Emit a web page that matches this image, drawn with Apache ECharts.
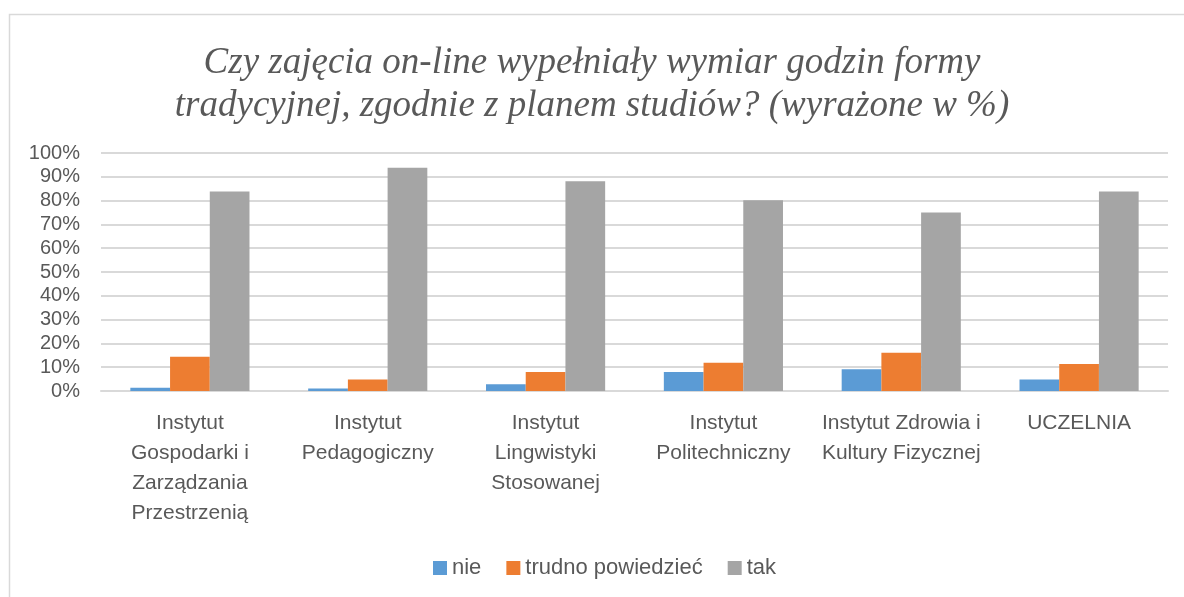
<!DOCTYPE html>
<html><head><meta charset="utf-8">
<script src="https://cdn.jsdelivr.net/npm/echarts@6/dist/echarts.min.js"></script>
<style>html,body{margin:0;padding:0;background:#fff}#c{width:1184px;height:597px}</style>
</head><body><div id="c"></div>
<script>
const titleText = 'Czy zajęcia on-line wypełniały wymiar godzin formy\ntradycyjnej, zgodnie z planem studiów? (wyrażone w %)';
const categories = ['Instytut\nGospodarki i\nZarządzania\nPrzestrzenią', 'Instytut\nPedagogiczny', 'Instytut\nLingwistyki\nStosowanej', 'Instytut\nPolitechniczny', 'Instytut Zdrowia i\nKultury Fizycznej', 'UCZELNIA'];
const seriesNames = ['nie', 'trudno powiedzieć', 'tak'];
const nie = [1.4, 1.0, 2.8, 8.0, 9.1, 4.8];
const trudno = [14.4, 4.8, 8.0, 11.9, 16.1, 11.3];
const tak = [83.8, 93.8, 88.1, 80.1, 75.0, 83.8];
const colors = ['#5b9bd5', '#ed7d31', '#a5a5a5'];

const chart = echarts.init(document.getElementById('c'));
const txt = '#595959';
chart.setOption({
  animation: false,
  color: colors,
  graphic: [{type:'rect', shape:{x:9.5,y:14.5,width:1300,height:700}, style:{fill:'none',stroke:'#d9d9d9',lineWidth:1.5}, z:-1}],
  title: {text: titleText, left: 'center', top: 37, padding:[5,5,5,25], textStyle:{fontFamily:'Liberation Serif', fontStyle:'italic', fontWeight:'normal', fontSize:37, color:txt, lineHeight:43}},
  legend: {top: 552, left: 428, itemWidth:14, itemHeight:14, itemGap:25, icon:'rect', textStyle:{fontFamily:'Liberation Sans', fontSize:22, color:txt}, data: seriesNames},
  grid: {left:101, right:16, top:153, bottom:206},
  xAxis: {type:'category', data: categories, axisTick:{show:false}, axisLine:{lineStyle:{color:'#d9d9d9', width:2}},
    axisLabel:{interval:0, margin:17, lineHeight:30, fontFamily:'Liberation Sans', fontSize:21, color:txt}},
  yAxis: {type:'value', min:0, max:100, interval:10, axisLine:{show:false}, axisTick:{show:false},
    splitLine:{lineStyle:{color:'#d9d9d9', width:2}},
    axisLabel:{formatter:'{value}%', margin:21, fontFamily:'Liberation Sans', fontSize:20, color:txt}},
  series: [
    {name: seriesNames[0], type:'bar', data: nie, barGap:'0%', barCategoryGap:'33%'},
    {name: seriesNames[1], type:'bar', data: trudno, barGap:'0%', barCategoryGap:'33%'},
    {name: seriesNames[2], type:'bar', data: tak, barGap:'0%', barCategoryGap:'33%'}
  ]
});
</script></body></html>
